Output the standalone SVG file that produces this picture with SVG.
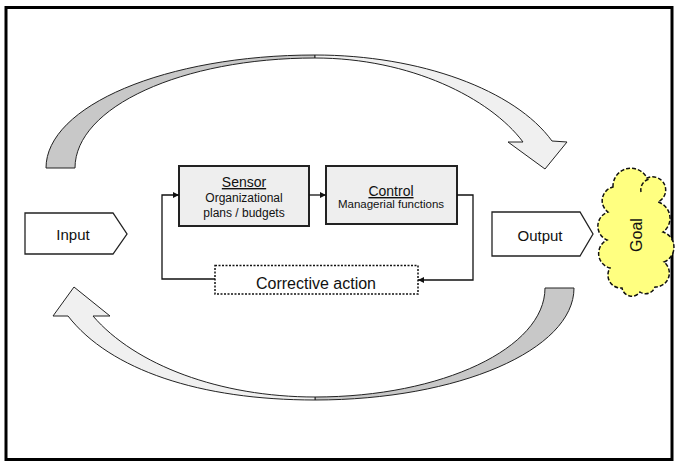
<svg xmlns="http://www.w3.org/2000/svg" width="677" height="463" viewBox="0 0 677 463">
<style>
text{font-family:"Liberation Sans",Arial,sans-serif;fill:#111}
.arc{stroke:#222;stroke-width:1;stroke-linejoin:round}
.light{fill:#f0f0f0}
.dark{fill:#c8c8c8}
.box{fill:#eeeeee;stroke:#222;stroke-width:2}
.pent{fill:#fff;stroke:#222;stroke-width:1.3}
.conn{fill:none;stroke:#111;stroke-width:1.3}
</style>
<defs>
<marker id="ah" viewBox="0 0 8 8" refX="8" refY="4" markerWidth="6" markerHeight="6" markerUnits="userSpaceOnUse" orient="auto">
<path d="M0,0 L8,4 L0,8 Z" fill="#111"/>
</marker>
</defs>
<rect x="0" y="0" width="677" height="463" fill="#fff"/>
<rect x="6" y="7.5" width="666" height="452" fill="#fff" stroke="#000" stroke-width="3"/>

<g id="top-arrow">
<path class="arc dark" d="M46,168 C46,106 166,55 315,55 L315,58 C182,58 75,107 75,168 Z"/>
<path class="arc light" d="M315,55 C420,55 515,90 552,141 L567,142 L545,169 L508,142 L523,142 C490,98 410,58 315,58 Z"/>
</g>
<g id="bottom-arrow">
<path class="arc dark" d="M315,400 C458,400 574,350 574,288 L545,288 C545,348 442,397 315,397 Z"/>
<path class="arc light" d="M74,287 L110,316 L93,316 C135,365 220,397 315,397 L315,400 C200,400 110,370 68,316 L53,316 Z"/>
</g>

<g id="input">
<path class="pent" d="M25,213 L113,213 L127,234 L113,254 L25,254 Z"/>
<text x="73" y="240" font-size="15" text-anchor="middle">Input</text>
</g>

<g id="output">
<path class="pent" d="M492,212 L580,212 L593,234 L580,256 L492,256 Z"/>
<text x="540" y="241" font-size="15" text-anchor="middle">Output</text>
</g>

<g id="sensor">
<rect class="box" x="179" y="166" width="130" height="60"/>
<text x="244" y="187" font-size="14" text-anchor="middle" text-decoration="underline">Sensor</text>
<text x="244" y="202" font-size="12" text-anchor="middle">Organizational</text>
<text x="244" y="217" font-size="12" text-anchor="middle">plans / budgets</text>
</g>

<g id="control">
<rect class="box" x="326" y="166" width="131" height="58"/>
<text x="391" y="196" font-size="14" text-anchor="middle" text-decoration="underline">Control</text>
<text x="391" y="208" font-size="11.5" text-anchor="middle">Managerial functions</text>
</g>

<g id="corrective">
<rect x="215" y="265.5" width="203" height="28.5" fill="#fff" stroke="#111" stroke-width="1.5" stroke-dasharray="2 1.5"/>
<text x="316" y="289" font-size="16" text-anchor="middle">Corrective action</text>
</g>

<g id="goal">
<path d="M613,187 A18,18 0 0 1 647,178 A13,13 0 0 1 658,202 A17,17 0 0 1 663,232 A16,16 0 0 1 664,262 A14,14 0 0 1 655,287 A10,10 0 0 1 640,292 A10,10 0 0 1 622,288 A13,13 0 0 1 610,268 A15,15 0 0 1 607,240 A15,15 0 0 1 608,212 A14,14 0 0 1 613,187 Z" fill="#ffff80" stroke="#111" stroke-width="1.5" stroke-dasharray="4 2"/>
<path d="M641,192 A11,11 0 0 1 650,179" fill="none" stroke="#111" stroke-width="1.5" stroke-dasharray="4 2"/>
<text transform="translate(642,235) rotate(-90)" font-size="16" text-anchor="middle">Goal</text>
</g>

<g id="connectors">
<path class="conn" d="M215,279 L162,279 L162,195 L179,195" marker-end="url(#ah)"/>
<path class="conn" d="M309,195 L326,195" marker-end="url(#ah)"/>
<path class="conn" d="M457,195 L473,195 L473,280 L418,280" marker-end="url(#ah)"/>
</g>
</svg>
